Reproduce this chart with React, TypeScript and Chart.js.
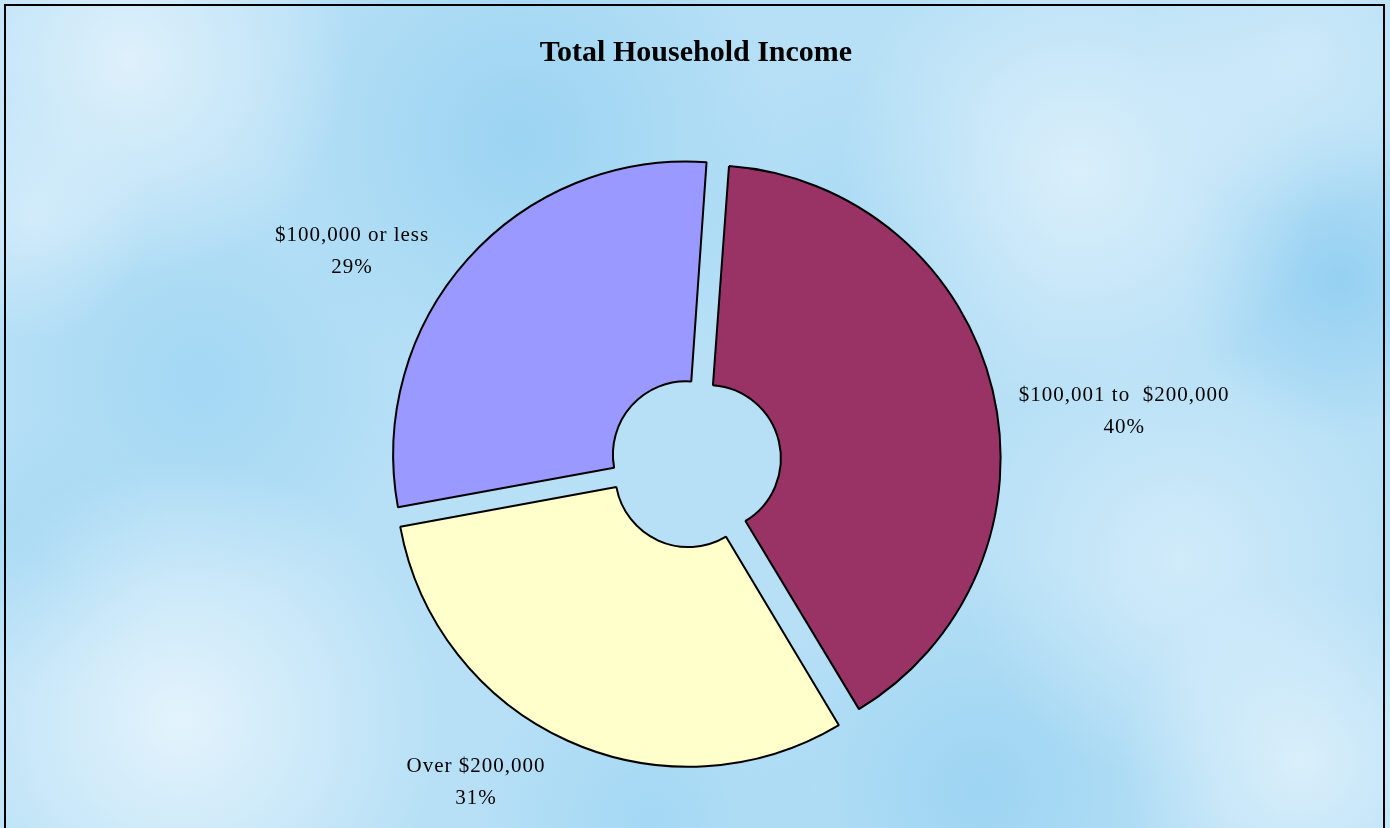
import React, { useEffect, useRef } from "react";
import { Chart, registerables } from "chart.js";

Chart.register(...registerables);

const categories = ["$100,001 to  $200,000", "Over $200,000", "$100,000 or less"];
const values = [40.3, 30.7, 29.0];
const sliceColors = ["#993366", "#FFFFCC", "#9999FF"];
const sliceOffsets = [56, 54, 42];
// label placement relative to pie centre, in units of the outer radius
const labelDX = [1.468, -0.744, -1.167];
const labelDY = [-0.169, 1.097, -0.717];

const total = values.reduce((a, b) => a + b, 0);
const percentLabels = values.map((v) => Math.round((v / total) * 100) + "%");

const backgroundPlugin = {
  id: "skyBackground",
  beforeDraw(chart: any) {
    const { ctx, width, height } = chart;
    ctx.save();
    ctx.fillStyle = "#b7e0f6";
    ctx.fillRect(0, 0, width, height);
    const blob = (x: number, y: number, r: number, color: string) => {
      const g = ctx.createRadialGradient(x, y, 0, x, y, r);
      g.addColorStop(0, color);
      g.addColorStop(1, color.replace(/[\d.]+\)$/, "0)"));
      ctx.fillStyle = g;
      ctx.fillRect(x - r, y - r, 2 * r, 2 * r);
    };
    blob(520, 140, 260, "rgba(140,205,240,0.65)");
    blob(200, 380, 220, "rgba(150,210,242,0.6)");
    blob(1340, 280, 160, "rgba(135,202,240,0.7)");
    blob(980, 790, 240, "rgba(140,205,240,0.6)");
    blob(650, 820, 180, "rgba(145,208,242,0.5)");
    blob(860, 250, 200, "rgba(150,210,242,0.4)");
    blob(40, 560, 140, "rgba(150,210,242,0.5)");
    blob(130, 60, 220, "rgba(235,246,253,0.75)");
    blob(1080, 170, 240, "rgba(232,245,253,0.7)");
    blob(1180, 560, 220, "rgba(225,242,252,0.6)");
    blob(180, 720, 260, "rgba(238,248,254,0.8)");
    blob(1300, 760, 180, "rgba(232,245,253,0.7)");
    blob(1300, 60, 160, "rgba(225,242,252,0.5)");
    blob(30, 220, 120, "rgba(230,244,253,0.5)");
    ctx.restore();
  },
  afterDraw(chart: any) {
    const { ctx, width, height } = chart;
    ctx.save();
    ctx.strokeStyle = "#000";
    ctx.lineWidth = 2;
    ctx.strokeRect(5, 5, width - 11, height + 10);
    ctx.restore();
  },
};

// keep exploded slices at the common radius (Chart.js enlarges wide slices when offset)
const explodePlugin = {
  id: "explodeFix",
  beforeDatasetDraw(chart: any, args: any) {
    const meta = chart.getDatasetMeta(args.index);
    meta.data.forEach((arc: any) => {
      const t = (arc.options.offset || 0) / 4;
      const fix = 1 - Math.sin(Math.min(Math.PI, arc.circumference || 0));
      arc.$fixD = t * fix;
      arc.outerRadius -= arc.$fixD;
      arc.innerRadius -= arc.$fixD;
    });
  },
  afterDatasetDraw(chart: any, args: any) {
    const meta = chart.getDatasetMeta(args.index);
    meta.data.forEach((arc: any) => {
      arc.outerRadius += arc.$fixD || 0;
      arc.innerRadius += arc.$fixD || 0;
      arc.$fixD = 0;
    });
  },
};

const labelPlugin = {
  id: "sliceLabels",
  afterDatasetsDraw(chart: any) {
    const { ctx } = chart;
    const meta = chart.getDatasetMeta(0);
    ctx.save();
    ctx.fillStyle = "#000";
    ctx.textAlign = "center";
    ctx.textBaseline = "middle";
    ctx.font = "21px 'Liberation Serif', 'Times New Roman', serif";
    (ctx as any).letterSpacing = "1px";
    meta.data.forEach((arc: any, i: number) => {
      const r = arc.outerRadius;
      const x = arc.x + labelDX[i] * r;
      const y = arc.y + labelDY[i] * r;
      ctx.fillText(categories[i], x, y - 16);
      ctx.fillText(percentLabels[i], x, y + 16);
    });
    (ctx as any).letterSpacing = "0px";
    ctx.font = "bold 30px 'Liberation Serif', 'Times New Roman', serif";
    ctx.fillText("Total Household Income", chart.width / 2 + 1, 53);
    ctx.restore();
  },
};

export default function App() {
  const ref = useRef<HTMLCanvasElement>(null);
  useEffect(() => {
    document.body.style.margin = "0";
    const chart = new Chart(ref.current!, {
      type: "doughnut",
      data: {
        labels: categories,
        datasets: [
          {
            data: values,
            backgroundColor: sliceColors,
            borderColor: "#000",
            borderWidth: 2,
            offset: sliceOffsets,
            hoverOffset: 0,
          },
        ],
      },
      options: {
        responsive: false,
        animation: false,
        rotation: 4,
        radius: 293,
        cutout: "25%",
        layout: { padding: { top: 95, bottom: 0, left: 0, right: 2 } },
        plugins: {
          legend: { display: false },
          title: { display: false },
          tooltip: { enabled: false },
        },
      },
      plugins: [backgroundPlugin, explodePlugin, labelPlugin],
    });
    return () => chart.destroy();
  }, []);
  return (
    <div style={{ width: 1390, height: 828 }}>
      <canvas ref={ref} width={1390} height={828} style={{ display: "block" }} />
    </div>
  );
}
